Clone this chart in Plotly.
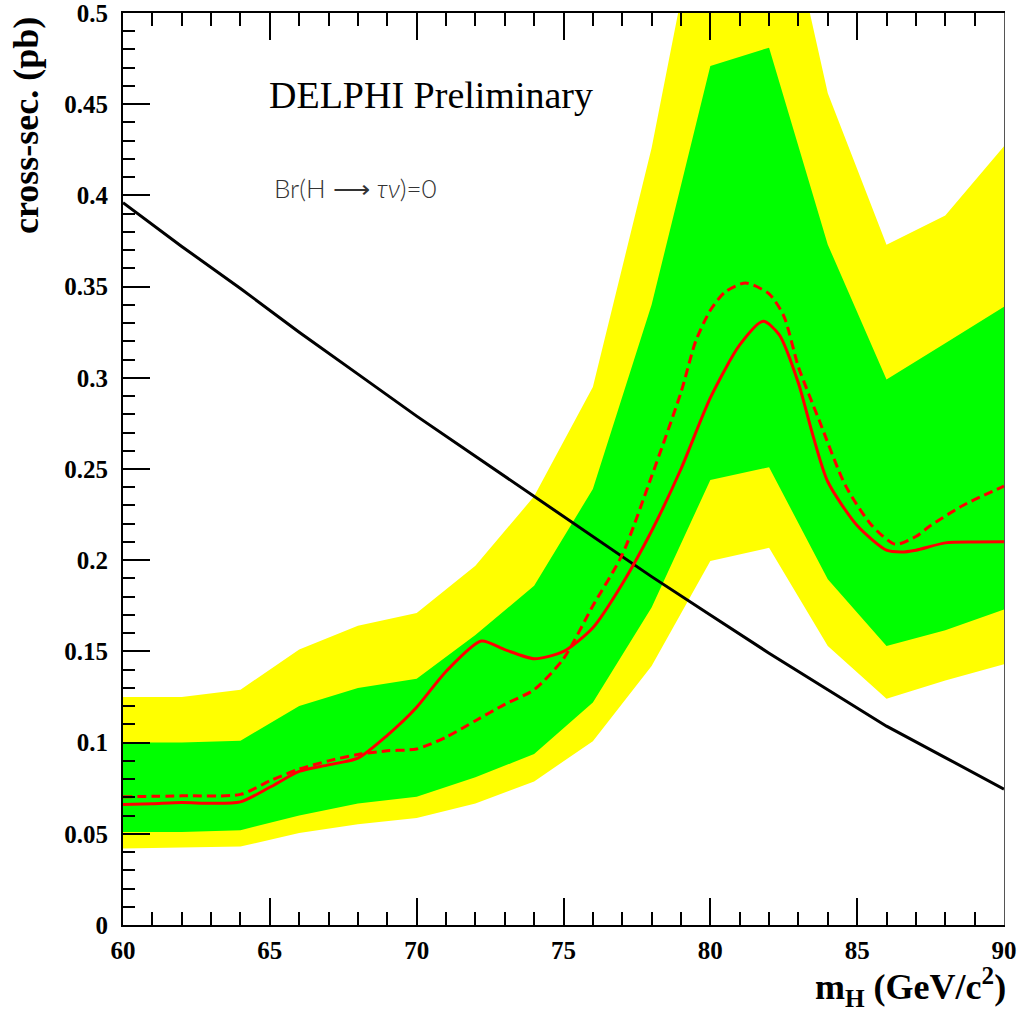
import plotly.graph_objects as go

# ---- data ----
mass_grid = [60, 62, 64, 66, 68, 70, 72, 74, 76, 78, 80, 82, 84, 86, 88, 90]
yellow_hi = [0.125, 0.125, 0.129, 0.151, 0.164, 0.171, 0.197, 0.235, 0.295, 0.426, 0.59, 0.60, 0.456, 0.373, 0.389, 0.427]
green_hi = [0.100, 0.100, 0.101, 0.120, 0.130, 0.135, 0.159, 0.186, 0.239, 0.340, 0.471, 0.481, 0.373, 0.299, 0.319, 0.339]
green_lo = [0.051, 0.051, 0.052, 0.060, 0.0666, 0.0703, 0.081, 0.0937, 0.122, 0.174, 0.244, 0.251, 0.1895, 0.153, 0.1616, 0.173]
yellow_lo = [0.042, 0.0427, 0.043, 0.0504, 0.0553, 0.0586, 0.0666, 0.0787, 0.1008, 0.142, 0.1995, 0.2068, 0.153, 0.1241, 0.134, 0.1429]

theory_mass = [60, 62, 64, 66, 68, 70, 72, 74, 76, 78, 80, 82, 84, 86, 88, 90]
theory_xsec = [0.396, 0.372, 0.349, 0.325, 0.302, 0.279, 0.257, 0.235, 0.213, 0.191, 0.170, 0.149, 0.129, 0.109, 0.0918, 0.0745]

obs_mass = [60, 61, 62, 63, 64, 65, 66, 67, 68, 69, 70, 71, 72.2, 73, 74, 75, 76, 77, 78, 79, 80, 81, 81.8, 82.35, 83, 83.5, 84, 85, 86, 86.5, 87, 88, 89, 90]
obs_xsec = [0.066, 0.0665, 0.0672, 0.0667, 0.0675, 0.0755, 0.0842, 0.0878, 0.0915, 0.104, 0.1194, 0.139, 0.1557, 0.151, 0.146, 0.150, 0.163, 0.187, 0.216, 0.250, 0.289, 0.318, 0.331, 0.3235, 0.297, 0.268, 0.243, 0.219, 0.2055, 0.2045, 0.2055, 0.2095, 0.2100, 0.2101]

exp_mass = [60, 62, 64, 65, 66, 67, 68, 69, 70, 71, 72, 73, 74, 75, 76, 77, 78, 79, 79.5, 80, 80.5, 81.2, 82, 82.5, 83, 83.7, 84.6, 85.5, 86.3, 87, 87.5, 88.6, 90]
exp_xsec = [0.0703, 0.0708, 0.0716, 0.079, 0.0855, 0.090, 0.0935, 0.0955, 0.0965, 0.103, 0.112, 0.121, 0.129, 0.146, 0.175, 0.203, 0.246, 0.292, 0.320, 0.337, 0.347, 0.352, 0.346, 0.334, 0.306, 0.277, 0.241, 0.219, 0.2087, 0.213, 0.219, 0.230, 0.2406]

y_tickvals = [0, 0.05, 0.1, 0.15, 0.2, 0.25, 0.3, 0.35, 0.4, 0.45, 0.5]
y_ticktext = ["0", "0.05", "0.1", "0.15", "0.2", "0.25", "0.3", "0.35", "0.4", "0.45", "0.5"]
x_tickvals = [60, 65, 70, 75, 80, 85, 90]
x_ticktext = ["60", "65", "70", "75", "80", "85", "90"]

YELLOW = "#ffff00"
GREEN = "#00ff00"
RED = "#ff0000"

fig = go.Figure()
fig.add_trace(go.Scatter(x=mass_grid, y=yellow_hi, mode="lines", line=dict(width=0), showlegend=False, hoverinfo="skip"))
fig.add_trace(go.Scatter(x=mass_grid, y=yellow_lo, mode="lines", line=dict(width=0), fill="tonexty",
                         fillcolor=YELLOW, showlegend=False, hoverinfo="skip"))
fig.add_trace(go.Scatter(x=mass_grid, y=green_hi, mode="lines", line=dict(width=0), showlegend=False, hoverinfo="skip"))
fig.add_trace(go.Scatter(x=mass_grid, y=green_lo, mode="lines", line=dict(width=0), fill="tonexty",
                         fillcolor=GREEN, showlegend=False, hoverinfo="skip"))
fig.add_trace(go.Scatter(x=theory_mass, y=theory_xsec, mode="lines", line=dict(color="black", width=3), showlegend=False))
fig.add_trace(go.Scatter(x=exp_mass, y=exp_xsec, mode="lines", line=dict(color=RED, width=3, dash="9px,5px", shape="spline", smoothing=0.7), showlegend=False))
fig.add_trace(go.Scatter(x=obs_mass, y=obs_xsec, mode="lines", line=dict(color=RED, width=3, shape="spline", smoothing=0.7), showlegend=False))

# dummy trace for the thin right-hand frame axis
fig.add_trace(go.Scatter(x=[60], y=[0], yaxis="y2", mode="none", showlegend=False, hoverinfo="skip"))

tick_font = dict(family="Liberation Serif", size=25, color="black", weight="bold")

fig.update_layout(
    width=1023, height=1018,
    margin=dict(l=123, r=19, t=13, b=93, autoexpand=False),
    paper_bgcolor="white", plot_bgcolor="white",
    xaxis=dict(range=[60, 90], showgrid=False, zeroline=False, automargin=False,
               showline=True, linecolor="black", linewidth=2, mirror="ticks",
               ticks="inside", ticklen=27, tickwidth=2, tickcolor="black",
               tickmode="array", tickvals=x_tickvals, ticktext=x_ticktext,
               tickfont=tick_font, ticklabelstandoff=2, ticklabeloverflow="allow",
               minor=dict(tickmode="linear", tick0=60, dtick=1, ticks="inside", ticklen=13, tickwidth=2,
                          tickcolor="black", showgrid=False)),
    yaxis=dict(range=[0, 0.5], showgrid=False, zeroline=False, automargin=False,
               showline=True, linecolor="black", linewidth=2, mirror=False,
               ticks="inside", ticklen=27, tickwidth=2, tickcolor="black",
               tickmode="array", tickvals=y_tickvals, ticktext=y_ticktext,
               tickfont=tick_font, ticklabelstandoff=8, ticklabeloverflow="allow",
               minor=dict(tickmode="linear", tick0=0, dtick=0.01, ticks="inside", ticklen=12, tickwidth=2,
                          tickcolor="black", showgrid=False)),
    yaxis2=dict(range=[0, 0.5], overlaying="y", side="right", showgrid=False, zeroline=False, automargin=False,
                showline=True, linecolor="#555555", linewidth=1, ticks="", showticklabels=False),
    annotations=[
        dict(text="<b>cross-sec. (pb)</b>", xref="paper", yref="paper", x=0, y=0.876,
             xshift=-97, textangle=-90, showarrow=False, xanchor="center", yanchor="middle",
             font=dict(family="Liberation Serif", size=36, color="black")),
        dict(text="<b>m<sub>H</sub> (GeV/c<sup>2</sup>)</b>", xref="paper", yref="paper", x=1, y=0,
             xshift=4, yshift=-62, showarrow=False, xanchor="right", yanchor="middle",
             font=dict(family="Liberation Serif", size=36, color="black")),
        dict(text="DELPHI Preliminary", xref="paper", yref="paper", x=0.3496, y=0.910,
             showarrow=False, xanchor="center", yanchor="middle",
             font=dict(family="Liberation Serif", size=38, color="black")),
        dict(text="Br(H \u27f6 <i>\u03c4\u03bd</i>)=0", xref="paper", yref="paper", x=0.169, y=0.808,
             showarrow=False, xanchor="left", yanchor="middle",
             font=dict(family="Lato, DejaVu Sans", size=26, color="#333333", weight=300)),
    ],
)

fig.write_html("out.html", config={"displayModeBar": False},
               post_script="document.body.style.margin='0';")
